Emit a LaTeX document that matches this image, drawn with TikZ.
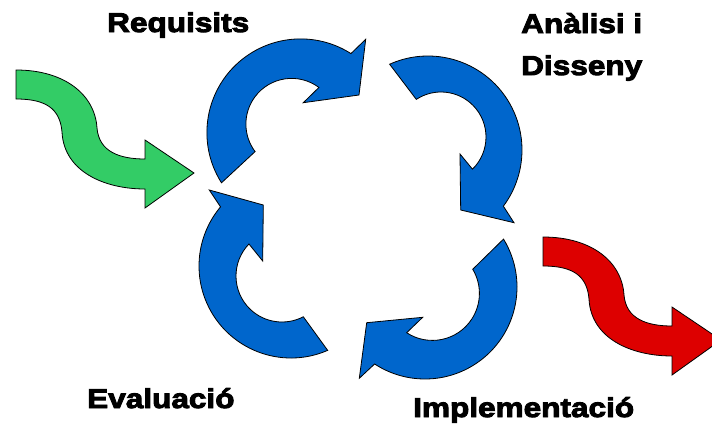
\documentclass[tikz,border=0pt]{standalone}
\usepackage{fontspec}
\newfontfamily\lblfont{Liberation Sans}[UprightFont={* Bold}, FakeBold=3.5, FakeStretch=1.16]
\usetikzlibrary{calc}
\definecolor{cycleblue}{RGB}{0,102,204}
\definecolor{ingreen}{RGB}{51,204,102}
\definecolor{outred}{RGB}{221,0,0}

\begin{document}
\begin{tikzpicture}[x=1pt,y=-1pt,
  cyclearrow/.style={draw=black, fill=cycleblue, line width=0.8pt, line join=miter},
  flowarrow/.style={draw=black, line width=0.8pt, line join=miter},
  phase/.style={font=\lblfont\fontsize{27.2}{30}\selectfont, anchor=base west, inner sep=0pt},
  sarrow/.pic={
    \path[pic actions] (16,70) .. controls (65,70) and (95,95) .. (97,128)
      .. controls (99,152) and (120,159) .. (145,159)
      -- (145,140) -- (194,173) -- (145,208) -- (145,189)
      .. controls (105,189) and (64,172) .. (62,132)
      .. controls (60,108) and (45,99) .. (16,99) -- cycle;
  }]
\useasboundingbox (0,0) rectangle (712,423);
\clip (0,0) rectangle (712,423);

% incoming and outgoing S-shaped arrows
\pic[flowarrow, fill=ingreen] (inflow) at (0,0) {sarrow};
\pic[flowarrow, fill=outred] (outflow) at (527,167) {sarrow};

% centres of the outer and inner rims of the four cycle arrows
\coordinate (o1) at (300.6,132.6); \coordinate (i1) at (291.6,124.1);
\coordinate (o2) at (428,150);     \coordinate (i2) at (441,137);
\coordinate (o3) at (425,287);     \coordinate (i3) at (432.4,293.4);
\coordinate (o4) at (291,266);     \coordinate (i4) at (282,276);

% top left
\path[cyclearrow] ($(o1)+(147.6:93.7)$) arc[start angle=147.6, end angle=302.5, radius=93.7]
  -- (365.7,39.3) -- (359,95) -- (303.3,102.7)
  -- ($(i1)+(306.7:45.7)$) arc[start angle=306.7, end angle=143, radius=45.7] -- cycle;
% top right
\path[cyclearrow] ($(o2)+(245.9:94)$) arc[start angle=245.9, end angle=396.7, radius=94]
  -- (514,222.7) -- (460.7,210) -- (460,154)
  -- ($(i2)+(45.6:45)$) arc[start angle=45.6, end angle=-123.3, radius=45] -- cycle;
% bottom right
\path[cyclearrow] ($(o3)+(-31.4:92)$) arc[start angle=-31.4, end angle=123.2, radius=92]
  -- (359.3,378.3) -- (366.7,322.7) -- (422.7,317.3)
  -- ($(i3)+(123.2:47)$) arc[start angle=123.2, end angle=-30.9, radius=47] -- cycle;
% bottom left
\path[cyclearrow] ($(o4)+(66.5:92)$) arc[start angle=66.5, end angle=220, radius=92]
  -- (209.3,190) -- (263.3,205) -- (262.7,261)
  -- ($(i4)+(224.1:46)$) arc[start angle=224.1, end angle=62.4, radius=46] -- cycle;

% phase labels
\node[phase] (req) at (107,32) {Requisits};
\node[phase] (ana) at (521,33) {Anàlisi i};
\node[phase] (dis) at (521,75) {Disseny};
\node[phase] (eva) at (87,408) {Evaluació};
\node[phase] (imp) at (413,417) {Implementació};
\end{tikzpicture}
\end{document}
